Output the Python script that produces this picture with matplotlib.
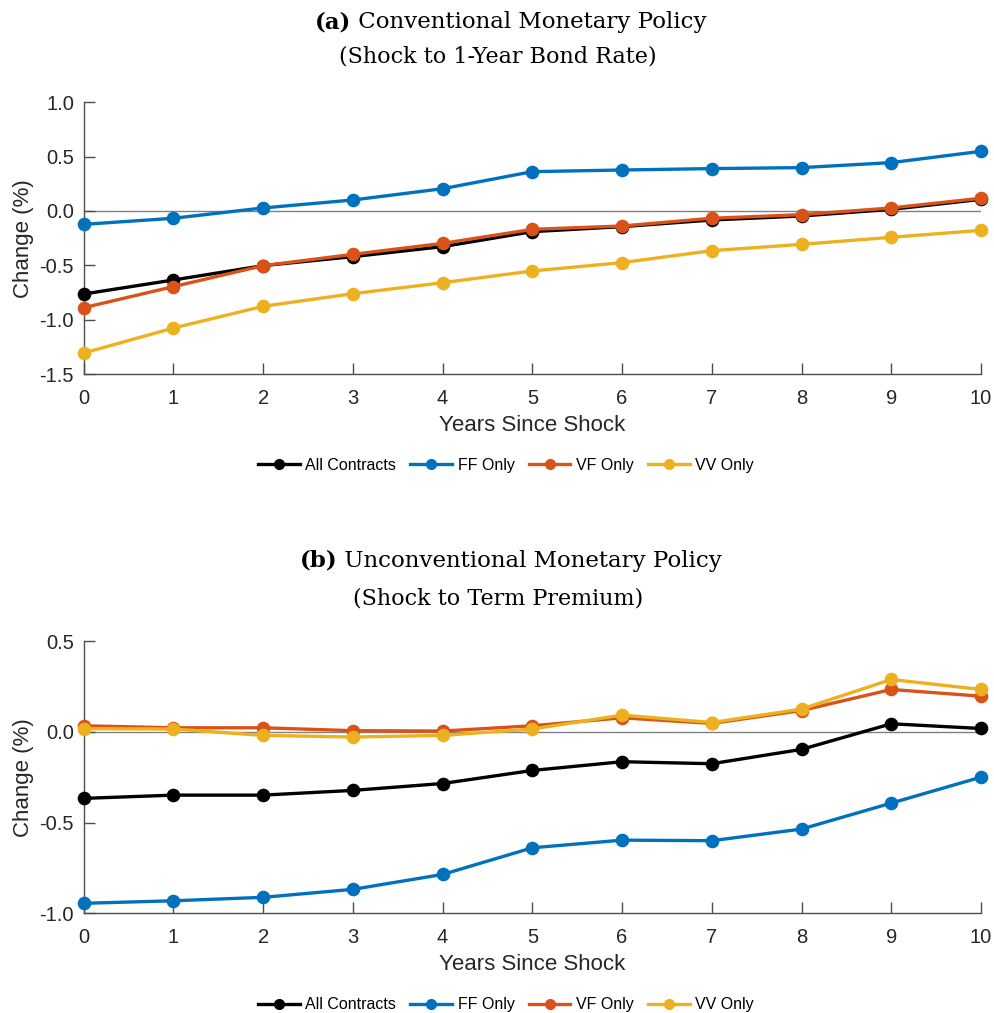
import matplotlib
matplotlib.use("Agg")
import matplotlib.pyplot as plt
from matplotlib.lines import Line2D

years = list(range(11))
series_names = ["All Contracts", "FF Only", "VF Only", "VV Only"]
colors = ["#000000", "#0072BD", "#D95319", "#EDB120"]

# Panel (a): Conventional monetary policy
a_all = [-0.764, -0.635, -0.503, -0.420, -0.328, -0.190, -0.144, -0.083, -0.046, 0.015, 0.107]
a_ff = [-0.123, -0.067, 0.028, 0.101, 0.205, 0.362, 0.377, 0.390, 0.399, 0.445, 0.549]
a_vf = [-0.890, -0.696, -0.503, -0.399, -0.298, -0.169, -0.138, -0.067, -0.034, 0.028, 0.117]
a_vv = [-1.307, -1.077, -0.877, -0.761, -0.660, -0.552, -0.475, -0.365, -0.307, -0.242, -0.178]

# Panel (b): Unconventional monetary policy
b_all = [-0.367, -0.349, -0.349, -0.323, -0.285, -0.213, -0.165, -0.176, -0.097, 0.044, 0.018]
b_ff = [-0.945, -0.931, -0.912, -0.868, -0.786, -0.639, -0.597, -0.600, -0.536, -0.393, -0.250]
b_vf = [0.033, 0.022, 0.022, 0.006, 0.004, 0.033, 0.077, 0.046, 0.117, 0.233, 0.196]
b_vv = [0.017, 0.015, -0.020, -0.029, -0.020, 0.015, 0.092, 0.051, 0.125, 0.288, 0.233]

a_yticks = [1.0, 0.5, 0.0, -0.5, -1.0, -1.5]
b_yticks = [0.5, 0.0, -0.5, -1.0]

W, H = 995, 1013
fig = plt.figure(figsize=(W / 100, H / 100), dpi=100)

sans = ["Liberation Sans", "DejaVu Sans"]
serif = ["DejaVu Serif"]
txt = "#262626"


def px_axes(left, right, top, bottom):
    return fig.add_axes([left / W, 1 - bottom / H, (right - left) / W, (bottom - top) / H])


def draw_panel(ax, data, yticks, ylim):
    ax.axhline(0, color="#808080", lw=1.0, zorder=1)
    for vals, c in zip(data, colors):
        ax.plot(years, vals, color=c, lw=2.4, marker="o", ms=8.8, clip_on=False, zorder=3)
    ax.set_xlim(0, 10)
    ax.set_ylim(*ylim)
    ax.set_xticks(years)
    ax.set_yticks(yticks)
    ax.set_yticklabels([f"{t:.1f}" for t in yticks], fontfamily=sans, fontsize=14.5, color=txt)
    ax.set_xticklabels([str(y) for y in years], fontfamily=sans, fontsize=14.5, color=txt)
    for s in ["top", "right"]:
        ax.spines[s].set_visible(False)
    for s in ["left", "bottom"]:
        ax.spines[s].set_color("#4d4d4d")
        ax.spines[s].set_linewidth(1.0)
    ax.tick_params(direction="in", length=8, width=1.0, color="#4d4d4d")
    ax.tick_params(axis="x", pad=10.5)
    ax.tick_params(axis="y", pad=7)
    ax.set_xlabel("Years Since Shock", fontfamily=sans, fontsize=16, color=txt, labelpad=5)
    ax.set_ylabel("Change (%)", fontfamily=sans, fontsize=16, color=txt, labelpad=4)
    handles = [Line2D([0], [0], color=c, lw=2.4, marker="o", ms=7) for c in colors]
    ax.legend(handles, series_names, loc="upper center", bbox_to_anchor=(0.4705, -0.255),
              ncol=4, frameon=False, prop={"family": sans, "size": 11.5},
              handlelength=2.6, columnspacing=0.9, handletextpad=0.35)


ax_a = px_axes(83.7, 981, 102.3, 374)
draw_panel(ax_a, [a_all, a_ff, a_vf, a_vv], a_yticks, (-1.5, 1.0))
ax_b = px_axes(83.7, 981, 641, 913.3)
draw_panel(ax_b, [b_all, b_ff, b_vf, b_vv], b_yticks, (-1.0, 0.5))

renderer = fig.canvas.get_renderer()


def bold_title(label, rest, xc, yc):
    t1 = fig.text(0, 1 - yc / H, label, fontfamily=serif, fontweight="bold", fontsize=16.5, va="center")
    t2 = fig.text(0, 1 - yc / H, " " + rest, fontfamily=serif, fontsize=16.5, va="center")
    w1 = t1.get_window_extent(renderer).width
    w2 = t2.get_window_extent(renderer).width
    x0 = xc - (w1 + w2) / 2
    t1.set_x(x0 / W)
    t2.set_x((x0 + w1) / W)


bold_title("(a)", "Conventional Monetary Policy", 511, 22)
fig.text(498 / W, 1 - 57 / H, "(Shock to 1-Year Bond Rate)", fontfamily=serif, fontsize=16, ha="center", va="center")
bold_title("(b)", "Unconventional Monetary Policy", 511, 561)
fig.text(498 / W, 1 - 598 / H, "(Shock to Term Premium)", fontfamily=serif, fontsize=16, ha="center", va="center")

fig.savefig("out.png", dpi=100)
